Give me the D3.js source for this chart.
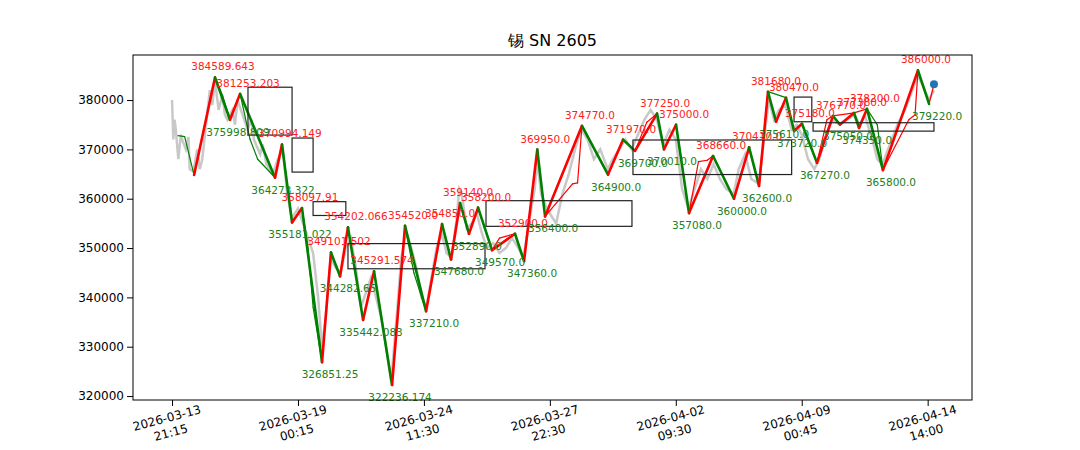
<!DOCTYPE html>
<html><head><meta charset="utf-8">
<script src="https://cdn.jsdelivr.net/npm/d3@7"></script>
<style>body{margin:0;background:#fff}text{font-family:"DejaVu Sans",sans-serif}</style>
</head><body><svg id="c" width="1080" height="450"></svg>
<script>
const title = "锡 SN 2605";
const xTickPos = [0,100,200,300,400,500,600];
const xTickLabels = [["2026-03-13","21:15"],["2026-03-19","00:15"],["2026-03-24","11:30"],["2026-03-27","22:30"],["2026-04-02","09:30"],["2026-04-09","00:45"],["2026-04-14","14:00"]];
const yTicks = [320000,330000,340000,350000,360000,370000,380000];
const pivots = [[4.8,372800,null],[17.5,364800,null],[34.1,384589.643,"384589.643"],[46,375998.809,"375998.809"],[54,381253.203,"381253.203"],[81.8,364273.322,"364273.322"],[87.3,370994.149,"370994.149"],[95.3,355181.022,"355181.022"],[103.2,358097.91,"358097.91"],[119.1,326851.25,"326851.25"],[126.2,349101.502,"349101.502"],[133.4,344282.65,"344282.65"],[139.7,354202.066,"354202.066"],[151.7,335442.083,"335442.083"],[160.4,345291.574,"345291.574"],[174.7,322236.174,"322236.174"],[185,354520.0,"354520.0"],[201.7,337210.0,"337210.0"],[214.4,354850.0,"354850.0"],[221.5,347680.0,"347680.0"],[228.7,359140.0,"359140.0"],[235.8,352890.0,"352890.0"],[243,358200.0,"358200.0"],[254.1,349570.0,"349570.0"],[272.3,352900.0,"352900.0"],[279.5,347360.0,"347360.0"],[290,369950.0,"369950.0"],[296.2,356400.0,"356400.0"],[325.5,374770.0,"374770.0"],[346.2,364900.0,"364900.0"],[358.1,371970.0,"371970.0"],[367.6,369700.0,"369700.0"],[385.1,377250.0,"377250.0"],[390.6,370010.0,"370010.0"],[400.2,375000.0,"375000.0"],[410.5,357080.0,"357080.0"],[429.6,368660.0,"368660.0"],[446.2,360000.0,"360000.0"],[458.2,370410.0,"370410.0"],[466.1,362600.0,"362600.0"],[473.2,381680.0,"381680.0"],[479.6,375610.0,"375610.0"],[487.5,380470.0,"380470.0"],[493.9,373720.0,"373720.0"],[500.2,375180.0,"375180.0"],[512.1,367270.0,"367270.0"],[524.8,376770.0,"376770.0"],[530.4,375050.0,"375050.0"],[541.5,377380.0,"377380.0"],[545.5,374350.0,"374350.0"],[551.8,378200.0,"378200.0"],[564.5,365800.0,"365800.0"],[592.3,386000.0,"386000.0"],[601.1,379220.0,"379220.0"]];
const lastPoint = [605,383200];
const thin = [[4.8,372800],[10,372600],[17.5,364800],[34.1,384600],[40,381000],[46,376000],[54,381300],[62,372000],[68,368000],[81.8,364300],[87.3,371000],[95.3,355200],[103.2,358100],[108,350000],[112,338000],[119.1,326900],[126.2,349100],[133.4,344300],[139.7,354200],[151.7,335400],[160.4,345300],[174.7,322200],[185,354500],[192,345000],[201.7,337200],[214.4,354850],[221.5,347700],[228.7,359100],[235.8,352900],[243,358200],[254.1,349600],[260,352000],[272.3,352900],[279.5,347400],[290,369950],[296.2,356400],[318,363000],[322,363200],[325.5,374800],[346.2,364900],[358.1,372000],[367.6,369700],[377,375500],[385.1,377250],[390.6,370000],[400.2,375000],[410.5,357100],[418,367500],[425,367800],[429.6,368700],[446.2,360000],[458.2,370400],[466.1,362600],[473.2,381700],[487.5,380500],[493.9,373700],[500.2,375200],[512.1,367300],[520,376000],[524.8,376800],[541.5,377400],[551.8,378200],[560,375000],[564.5,365800],[585,376000],[590,377000],[592.3,386000],[601.1,379200],[605,383200]];
const boxes = [[60.3,95.3,382600,372900],[95.3,112,372300,365400],[112,138,359400,356600],[139.7,248.5,350900,345800],[249.3,365.2,359600,354400],[366,492,371900,364900],[493.9,508,380600,375600],[509,605,375400,373700]];
const gray = [[0,380000],[1,372000],[2,376000],[3,374000],[5,368000],[7,373000],[8,372000],[11,370000],[13,372500],[14,366000],[17,365500],[20,370000],[22,366000],[24,368000],[27,375000],[30,382000],[32,379000],[34,384000],[37,378000],[40,381000],[42,377000],[44,376000],[48,378000],[50,375000],[52,380000],[56,377000],[60,374000],[63,376000],[65,372000],[70,369000],[72,371000],[75,367000],[80,365000],[84,368000],[88,370000],[91,362000],[93,359000],[95,356000],[100,358000],[104,355000],[108,352000],[112,349000],[116,340000],[119,330000],[122,336000],[126,348000],[130,346000],[134,345000],[138,350000],[142,352000],[146,346000],[150,338000],[154,341000],[158,344000],[162,340000],[166,336000],[170,330000],[174,323000],[178,335000],[182,348000],[186,353000],[190,350000],[194,346000],[198,340000],[202,338000],[206,344000],[210,350000],[214,353000],[218,349000],[222,348000],[226,356000],[228,362000],[230,361000],[234,354000],[238,355000],[242,357000],[246,353000],[250,350000],[255,351000],[260,349000],[265,350000],[270,352000],[275,350000],[279,348000],[284,356000],[288,362000],[290,368000],[293,361000],[296,359000],[300,357000],[305,355000],[310,361000],[315,365000],[320,370000],[325,374000],[330,372000],[335,368000],[340,370000],[346,366000],[350,368000],[355,370000],[360,372000],[365,370000],[370,373000],[375,376000],[380,378000],[385,376000],[390,371000],[395,374000],[400,372000],[405,362000],[410,358000],[415,362000],[420,366000],[425,364000],[430,367000],[435,364000],[440,362000],[446,361000],[450,366000],[455,369000],[460,364000],[466,363000],[470,372000],[474,380000],[478,376000],[482,378000],[487,379000],[492,374000],[496,375000],[500,373000],[505,368000],[510,366000],[514,368000],[518,372000],[524,376000],[530,375000],[536,376000],[542,377000],[546,375000],[550,377000],[556,372000],[560,368000],[564,367000],[570,371000],[576,375000],[582,378000],[588,382000],[592,385000],[596,383000],[601,380000],[605,382000]];

const svg = d3.select("#c");
const L=133,R=972,T=55,B=400;
const x = d3.scaleLinear().domain([-31,635.2]).range([L,R]);
const y = d3.scaleLinear().domain([319200,389130]).range([B,T]);
svg.append("text").attr("x",(L+R)/2).attr("y",46).attr("text-anchor","middle").attr("font-size",16).attr("font-family","DejaVu Sans Mono, Noto Sans CJK SC").text(title);
const g = svg.append("g");
g.append("path").datum(gray).attr("fill","none").attr("stroke","#c8c8c8").attr("stroke-width",2.5)
 .attr("d",d3.line().x(d=>x(d[0])).y(d=>y(d[1])));
function segs(arr,w){
  for(let i=1;i<arr.length;i++){
    const a=arr[i-1],b=arr[i];
    g.append("line").attr("x1",x(a[0])).attr("y1",y(a[1])).attr("x2",x(b[0])).attr("y2",y(b[1]))
     .attr("stroke",b[1]>a[1]?"#ff0000":"#008000").attr("stroke-width",w).attr("stroke-linecap","round");
  }
}
segs(thin,1.2);
segs(pivots.slice(1),2.6);
g.selectAll("rect.b").data(boxes).join("rect").attr("x",d=>x(d[0])).attr("y",d=>y(d[2]))
 .attr("width",d=>x(d[1])-x(d[0])).attr("height",d=>y(d[3])-y(d[2])).attr("fill","none").attr("stroke","#222").attr("stroke-width",1.2);
pivots.forEach((p,i)=>{
  if(!p[2])return;
  const prev=pivots[i-1]; const high = p[1]>prev[1];
  g.append("text").attr("x",x(p[0])+8).attr("y",high?y(p[1])-7:y(p[1])+16).attr("text-anchor","middle")
   .attr("font-size",10.5).attr("fill",high?"#ff2020":"#208020").text(p[2]);
});
g.append("circle").attr("cx",x(lastPoint[0])).attr("cy",y(lastPoint[1])).attr("r",4).attr("fill","#1f77b4");
svg.append("rect").attr("x",L).attr("y",T).attr("width",R-L).attr("height",B-T).attr("fill","none").attr("stroke","#000");
const ya=svg.append("g").attr("transform",`translate(${L},0)`).call(d3.axisLeft(y).tickValues(yTicks).tickFormat(d3.format("d")).tickSizeOuter(0));
ya.select(".domain").remove(); ya.selectAll("text").attr("font-size",12).attr("fill","#000");
const xa=svg.append("g").attr("transform",`translate(0,${B})`).call(d3.axisBottom(x).tickValues(xTickPos).tickFormat("").tickSizeOuter(0));
xa.select(".domain").remove();
xTickPos.forEach((t,i)=>{
  const tx=svg.append("text").attr("transform",`translate(${x(t)-4},${B+22}) rotate(-15)`).attr("text-anchor","middle").attr("font-size",12);
  tx.append("tspan").attr("x",0).attr("dy",0).text(xTickLabels[i][0]);
  tx.append("tspan").attr("x",0).attr("dy",15).text(xTickLabels[i][1]);
});
</script></body></html>
